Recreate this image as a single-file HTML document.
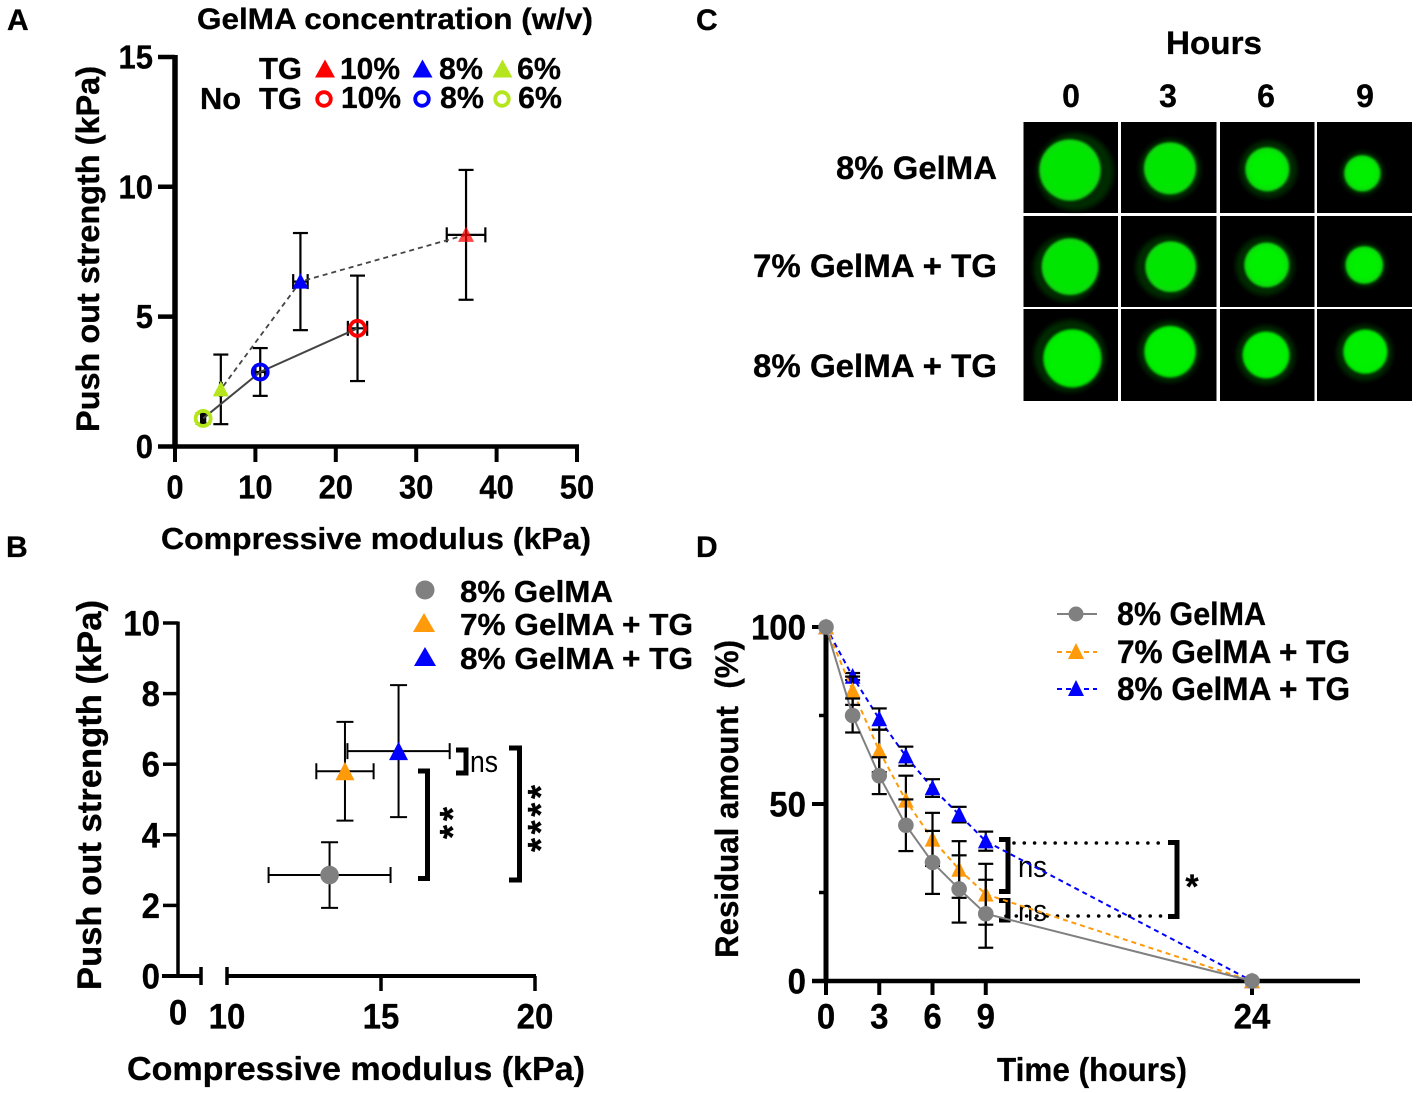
<!DOCTYPE html>
<html lang="en">
<head>
<meta charset="utf-8">
<title>GelMA hydrogel mechanical and degradation figure</title>
<style>
html,body{margin:0;padding:0;background:#fff;}
svg{display:block;}
text{font-family:"Liberation Sans",Arial,sans-serif;font-weight:bold;fill:#000;stroke:#000;stroke-width:0.3px;}
text.reg{font-weight:normal;stroke:none;}
</style>
</head>
<body>
<svg id="fig" xmlns="http://www.w3.org/2000/svg" width="1417" height="1093" viewBox="0 0 1417 1093">
  <defs>
    <filter id="blurHalo" x="-30%" y="-30%" width="160%" height="160%"><feGaussianBlur stdDeviation="2.5"/></filter>
    <filter id="blurCore" x="-30%" y="-30%" width="160%" height="160%"><feGaussianBlur stdDeviation="1.4"/></filter>
  </defs>
  <rect width="1417" height="1093" fill="#fff"/>

  <text x="7" y="30" font-size="30">A</text>
  <text x="6" y="557" font-size="30">B</text>
  <text x="696" y="30" font-size="30">C</text>
  <text x="696" y="557" font-size="30">D</text>

  <text x="197" y="29" font-size="30" textLength="396" lengthAdjust="spacingAndGlyphs">GelMA concentration (w/v)</text>
  <text x="161" y="549" font-size="31" textLength="430" lengthAdjust="spacingAndGlyphs">Compressive modulus (kPa)</text>
  <text transform="translate(99,432) rotate(-90)" font-size="32" textLength="366" lengthAdjust="spacingAndGlyphs">Push out strength (kPa)</text>

  <text x="259" y="79" font-size="31" textLength="43" lengthAdjust="spacingAndGlyphs">TG</text>
  <text x="200" y="109" font-size="31" textLength="41" lengthAdjust="spacingAndGlyphs">No</text>
  <text x="259" y="109" font-size="31" textLength="43" lengthAdjust="spacingAndGlyphs">TG</text>
  <text x="340" y="79" font-size="31" textLength="60" lengthAdjust="spacingAndGlyphs">10%</text>
  <text x="439" y="79" font-size="31" textLength="44" lengthAdjust="spacingAndGlyphs">8%</text>
  <text x="517" y="79" font-size="31" textLength="44" lengthAdjust="spacingAndGlyphs">6%</text>
  <text x="341" y="108" font-size="31" textLength="60" lengthAdjust="spacingAndGlyphs">10%</text>
  <text x="440" y="108" font-size="31" textLength="44" lengthAdjust="spacingAndGlyphs">8%</text>
  <text x="518" y="108" font-size="31" textLength="44" lengthAdjust="spacingAndGlyphs">6%</text>

  <text x="127" y="1080" font-size="33" textLength="458" lengthAdjust="spacingAndGlyphs">Compressive modulus (kPa)</text>
  <text transform="translate(101,990) rotate(-90)" font-size="34" textLength="390" lengthAdjust="spacingAndGlyphs">Push out strength (kPa)</text>
  <text x="460" y="602" font-size="31" textLength="153" lengthAdjust="spacingAndGlyphs">8% GelMA</text>
  <text x="460" y="635" font-size="31" textLength="233" lengthAdjust="spacingAndGlyphs">7% GelMA + TG</text>
  <text x="460" y="669" font-size="31" textLength="233" lengthAdjust="spacingAndGlyphs">8% GelMA + TG</text>
  <text class="reg" x="470" y="772" font-size="31" textLength="28" lengthAdjust="spacingAndGlyphs">ns</text>
  <text transform="translate(465,839) rotate(-90)" font-size="36" textLength="32" lengthAdjust="spacing">**</text>
  <text transform="translate(553,852) rotate(-90)" font-size="36" textLength="67" lengthAdjust="spacing">****</text>

  <text x="1166" y="54" font-size="32" textLength="96" lengthAdjust="spacingAndGlyphs">Hours</text>
  <text x="1071" y="107" font-size="32" text-anchor="middle">0</text>
  <text x="1168" y="107" font-size="32" text-anchor="middle">3</text>
  <text x="1266" y="107" font-size="32" text-anchor="middle">6</text>
  <text x="1365" y="107" font-size="32" text-anchor="middle">9</text>
  <text x="836" y="179" font-size="32" textLength="161" lengthAdjust="spacingAndGlyphs">8% GelMA</text>
  <text x="753" y="277" font-size="32" textLength="244" lengthAdjust="spacingAndGlyphs">7% GelMA + TG</text>
  <text x="753" y="377" font-size="32" textLength="244" lengthAdjust="spacingAndGlyphs">8% GelMA + TG</text>

  <text x="997" y="1081" font-size="33" textLength="190" lengthAdjust="spacingAndGlyphs">Time (hours)</text>
  <text transform="translate(738,958) rotate(-90)" font-size="32" textLength="318" lengthAdjust="spacingAndGlyphs" xml:space="preserve">Residual amount  (%)</text>
  <text x="1117" y="625" font-size="32" textLength="149" lengthAdjust="spacingAndGlyphs">8% GelMA</text>
  <text x="1117" y="663" font-size="32" textLength="233" lengthAdjust="spacingAndGlyphs">7% GelMA + TG</text>
  <text x="1117" y="700" font-size="32" textLength="233" lengthAdjust="spacingAndGlyphs">8% GelMA + TG</text>
  <text class="reg" x="1018" y="877" font-size="31" textLength="29" lengthAdjust="spacingAndGlyphs">ns</text>
  <text class="reg" x="1018" y="921" font-size="31" textLength="29" lengthAdjust="spacingAndGlyphs">ns</text>
  <text x="1192" y="898" font-size="34" text-anchor="middle">*</text>

  <path d="M456 750H466V773H456" fill="none" stroke="#000" stroke-width="5"/>
  <path d="M418 771H427.5V878.5H418" fill="none" stroke="#000" stroke-width="5"/>
  <path d="M509 748H519.5V880H509" fill="none" stroke="#000" stroke-width="5"/>
  <path d="M999 839.5H1008V891.5H999" fill="none" stroke="#000" stroke-width="5"/>
  <path d="M999 900.5H1008V920H999" fill="none" stroke="#000" stroke-width="5"/>
  <path d="M1168 842.5H1177V916.5H1168" fill="none" stroke="#000" stroke-width="5"/>
  <line x1="1014" y1="843" x2="1166" y2="843" stroke="#000" stroke-width="3.6" stroke-linecap="round" stroke-dasharray="0 10.3"/>
  <line x1="1006" y1="916" x2="1166" y2="916" stroke="#000" stroke-width="3.6" stroke-linecap="round" stroke-dasharray="0 10.3"/>
</svg>
<script>
// Panel A data
const aSeriesNames = ['tg-10', 'tg-8', 'tg-6', 'no-tg-10', 'no-tg-8', 'no-tg-6'];
const aColors = ['#ff0000', '#0000ff', '#b5e61d', '#ff0000', '#0000ff', '#b5e61d'];
const aModulus = [36.2, 15.6, 5.7, 22.7, 10.6, 3.5];
const aModulusErr = [2.4, 0.9, 0.1, 1.2, 0.6, 0.25];
const aStrength = [8.15, 6.35, 2.2, 4.55, 2.87, 1.08];
const aStrengthErr = [2.5, 1.87, 1.34, 2.03, 0.92, 0.2];
const aXTicks = [0, 10, 20, 30, 40, 50];
const aYTicks = [0, 5, 10, 15];

// Panel B data
const bSeriesNames = ['8-gelma', '7-gelma-tg', '8-gelma-tg'];
const bColors = ['#808080', '#ff9a0a', '#0000ff'];
const bModulus = [13.33, 13.83, 15.57];
const bModulusErr = [1.98, 0.93, 1.66];
const bStrength = [2.86, 5.8, 6.37];
const bStrengthErr = [0.93, 1.4, 1.87];
const bXTicks = [10, 15, 20];
const bYTicks = [0, 2, 4, 6, 8, 10];

// Panel D data
const dHours = [0, 1.5, 3, 4.5, 6, 7.5, 9, 24];
const dGelma = [100, 75, 58, 44, 33.5, 26, 19, 0];
const dGelmaErr = [0, 4.8, 5.2, 7.3, 8.9, 9.5, 9.6, 0];
const d7Tg = [100, 82, 65, 51, 40, 31.5, 24.5, 0];
const d7TgErr = [0, 4, 6, 7, 7.5, 8, 8.6, 0];
const d8Tg = [100, 86, 74, 63.5, 54.5, 47, 39.5, 0];
const d8TgErr = [0, 1, 3, 2.7, 2.5, 2.2, 2.7, 0];
const dXTicks = [0, 3, 6, 9, 24];
const dYTicks = [0, 50, 100];
const dYMinorTicks = [25, 75];

// Panel C micrograph appearance, in a 3x crop space of the image block
const cRows = ['8-gelma', '7-gelma-tg', '8-gelma-tg'];
const cHours = [0, 3, 6, 9];
const cBlobs = [
  [[180,180,92,195,185,116],[480,175,78,480,178,92],[772,178,66,775,178,86],[1057,190,54,1057,190,65]],
  [[180,470,85,170,475,100],[482,470,76,472,472,95],[770,465,67,765,468,88],[1063,465,56,1063,465,66]],
  [[187,745,87,180,738,108],[480,725,77,478,725,92],[768,735,70,768,735,88],[1066,725,66,1064,728,84]]
];
const cCellX = [[1023.5, 1118], [1121, 1216.5], [1220, 1314.5], [1317, 1412]];
const cCellY = [[122, 213], [216, 307], [309, 401]];

const NS = 'http://www.w3.org/2000/svg';
const fig = document.getElementById('fig');

function make(tag, name, attrs, parent) {
  const el = document.createElementNS(NS, tag);
  
  
  for (const k in attrs) el.setAttribute(k, attrs[k]);
  (parent || fig).appendChild(el);
  return el;
}
function line(name, x1, y1, x2, y2, w, color, parent, dash) {
  const a = {x1: x1, y1: y1, x2: x2, y2: y2, stroke: color || '#000', 'stroke-width': w};
  if (dash) a['stroke-dasharray'] = dash;
  return make('line', name, a, parent);
}
function label(name, str, x, y, size, anchor, parent) {
  const t = make('text', name, {
    x: x, y: y + 0.5, 'font-size': size * 1.07, 'text-anchor': anchor,
    textLength: str.length * 0.556 * size, lengthAdjust: 'spacingAndGlyphs'
  }, parent);
  t.textContent = str;
  return t;
}
function triangle(name, x, y, hw, up, down, color, opacity, parent) {
  return make('polygon', name, {
    points: (x - hw) + ',' + (y + down) + ' ' + (x + hw) + ',' + (y + down) + ' ' + x + ',' + (y - up),
    fill: color, 'fill-opacity': opacity
  }, parent);
}
function errorBar(name, x, yLow, yHigh, cap, w, parent) {
  const g = make('g', name, {}, parent);
  line('error-stem', x, yLow, x, yHigh, w, '#000', g);
  line('error-cap', x - cap, yLow, x + cap, yLow, w, '#000', g);
  line('error-cap', x - cap, yHigh, x + cap, yHigh, w, '#000', g);
  return g;
}
function errorBarX(name, y, xLow, xHigh, cap, w, parent) {
  const g = make('g', name, {}, parent);
  line('error-stem', xLow, y, xHigh, y, w, '#000', g);
  line('error-cap', xLow, y - cap, xLow, y + cap, w, '#000', g);
  line('error-cap', xHigh, y - cap, xHigh, y + cap, w, '#000', g);
  return g;
}

// ---------- Panel A ----------
const ax = v => 175 + v * 8.04;
const ay = v => 446.5 - v * 25.97;
const panelA = make('g', 'panel-a-scatter', {});
aXTicks.forEach(t => {
  line('panel-a-x-tick', ax(t), 446, ax(t), 462, 4, '#000', panelA);
  label('panel-a-x-tick-label', String(t), ax(t), 498, 31, 'middle', panelA);
});
aYTicks.forEach(t => {
  line('panel-a-y-tick', 158, ay(t), 175, ay(t), 4.5, '#000', panelA);
  label('panel-a-y-tick-label', String(t), 153, ay(t) + 11, 31, 'end', panelA);
});
line('panel-a-y-axis', 175, ay(15) - 2, 175, 448, 5.5, '#000', panelA);
line('panel-a-x-axis', 173, 446.5, 579, 446.5, 4.5, '#000', panelA);
aModulus.forEach((m, i) => {
  errorBar('panel-a-y-error', ax(m), ay(aStrength[i] - aStrengthErr[i]), ay(aStrength[i] + aStrengthErr[i]), 7.5, 2.2, panelA);
  errorBarX('panel-a-x-error', ay(aStrength[i]), ax(m - aModulusErr[i]), ax(m + aModulusErr[i]), i === 5 ? 5 : 7.5, 2.2, panelA);
});
const tgPts = [0, 1, 2].map(i => ax(aModulus[i]) + ',' + ay(aStrength[i])).join(' ');
make('polyline', 'panel-a-line-tg', {points: tgPts, fill: 'none', stroke: '#444', 'stroke-width': 1.8, 'stroke-dasharray': '5 4'}, panelA);
const noTgPts = [3, 4, 5].map(i => ax(aModulus[i]) + ',' + ay(aStrength[i])).join(' ');
make('polyline', 'panel-a-line-no-tg', {points: noTgPts, fill: 'none', stroke: '#444', 'stroke-width': 2}, panelA);
aSeriesNames.forEach((n, i) => {
  if (i < 3) {
    triangle('panel-a-point-' + n, ax(aModulus[i]), ay(aStrength[i]), 8, 8.5, 7, aColors[i], i === 0 ? 0.72 : 1, panelA);
  } else {
    make('circle', 'panel-a-point-' + n, {cx: ax(aModulus[i]), cy: ay(aStrength[i]), r: 7.5, fill: 'none', stroke: aColors[i], 'stroke-width': 3.8}, panelA);
  }
});
[325, 422.5, 502.5].forEach((x, i) => {
  triangle('panel-a-legend-marker-' + aSeriesNames[i], x, 68, 10, 8.5, 9.5, aColors[i], 1);
});
[324, 422, 502].forEach((x, i) => {
  make('circle', 'panel-a-legend-marker-' + aSeriesNames[i + 3], {cx: x, cy: 99, r: 6.8, fill: 'none', stroke: aColors[i + 3], 'stroke-width': 3.8});
});

// ---------- Panel B ----------
const bx = v => 227 + (v - 10) * 30.8;
const by = v => 976 - v * 35.3;
const panelB = make('g', 'panel-b-scatter', {});
line('panel-b-y-axis', 178, by(10) - 1.5, 178, 977, 3.5, '#000', panelB);
line('panel-b-x-axis-low', 162, 976, 201, 976, 4, '#000', panelB);
line('panel-b-axis-break-left', 201, 967, 201, 985, 3.5, '#000', panelB);
line('panel-b-x-axis-high', 227, 976, 536, 976, 4, '#000', panelB);
bXTicks.forEach(t => {
  line('panel-b-x-tick', bx(t), t === 10 ? 967 : 976, bx(t), t === 10 ? 985 : 991, 3.5, '#000', panelB);
  label('panel-b-x-tick-label', String(t), bx(t), 1028, 33, 'middle', panelB);
});
label('panel-b-x-tick-label', '0', 178, 1024, 33, 'middle', panelB);
bYTicks.forEach(t => {
  line('panel-b-y-tick', 163, by(t), 178, by(t), 3.5, '#000', panelB);
  label('panel-b-y-tick-label', String(t), 160, by(t) + 12, 33, 'end', panelB);
});
bSeriesNames.forEach((n, i) => {
  errorBar('panel-b-y-error-' + n, bx(bModulus[i]), by(bStrength[i] - bStrengthErr[i]), by(bStrength[i] + bStrengthErr[i]), 8.5, 2, panelB);
  errorBarX('panel-b-x-error-' + n, by(bStrength[i]), bx(bModulus[i] - bModulusErr[i]), bx(bModulus[i] + bModulusErr[i]), 8, 2, panelB);
});
make('circle', 'panel-b-point-8-gelma', {cx: bx(bModulus[0]), cy: by(bStrength[0]), r: 9.3, fill: bColors[0]}, panelB);
triangle('panel-b-point-7-gelma-tg', bx(bModulus[1]), by(bStrength[1]), 9.5, 9.5, 9, bColors[1], 1, panelB);
triangle('panel-b-point-8-gelma-tg', bx(bModulus[2]), by(bStrength[2]), 9.5, 9.5, 9, bColors[2], 1, panelB);
make('circle', 'panel-b-legend-marker-8-gelma', {cx: 425, cy: 590, r: 9.5, fill: bColors[0]});
triangle('panel-b-legend-marker-7-tg', 424, 624, 11, 11, 8, bColors[1], 1);
triangle('panel-b-legend-marker-8-tg', 425, 657, 11, 10, 9, bColors[2], 1);

// ---------- Panel C ----------
const panelC = make('g', 'panel-c-micrographs', {});
const toX = v => 1010 + v / 3;
const toY = v => 110 + v / 3;
cRows.forEach((rowName, r) => {
  cHours.forEach((h, c) => {
    const cell = make('g', 'micrograph-' + rowName + '-' + h + 'h', {}, panelC);
    const b = cBlobs[r][c];
    make('rect', 'micrograph-background', {x: cCellX[c][0], y: cCellY[r][0], width: cCellX[c][1] - cCellX[c][0], height: cCellY[r][1] - cCellY[r][0], fill: '#000'}, cell);
    make('circle', 'micrograph-halo', {cx: toX(b[3]), cy: toY(b[4]), r: b[5] / 3, fill: '#032c03', filter: 'url(#blurHalo)'}, cell);
    make('circle', 'micrograph-gel', {cx: toX(b[0]), cy: toY(b[1]), r: b[2] / 3, fill: r === 2 ? '#02ea02' : '#0adc0a', filter: 'url(#blurCore)'}, cell);
    make('circle', 'micrograph-gel-core', {cx: toX(b[0]), cy: toY(b[1]), r: b[2] / 3 * 0.85, fill: r === 2 || c > 1 ? '#00f000' : '#06e606', filter: 'url(#blurHalo)'}, cell);
  });
});

// ---------- Panel D ----------
const dx = v => 826 + v * 17.75;
const dy = v => 981 - v * 3.54;
const panelD = make('g', 'panel-d-degradation', {});
line('panel-d-y-axis', 826, dy(100), 826, 983, 5, '#000', panelD);
line('panel-d-x-axis', 812, 981, 1360, 981, 4.5, '#000', panelD);
dYTicks.forEach(t => {
  line('panel-d-y-tick', 812, dy(t), 826, dy(t), 4, '#000', panelD);
  label('panel-d-y-tick-label', String(t), 806, dy(t) + 12, 33, 'end', panelD);
});
dYMinorTicks.forEach(t => {
  line('panel-d-y-minor-tick', 819, dy(t), 826, dy(t), 3.5, '#000', panelD);
});
dXTicks.forEach(t => {
  line('panel-d-x-tick', dx(t), 981, dx(t), 995, 4, '#000', panelD);
  label('panel-d-x-tick-label', String(t), dx(t), 1028, 33, 'middle', panelD);
});
function drawSeries(name, values, errs, color, isCircle, dash) {
  const g = make('g', 'panel-d-series-' + name, {}, panelD);
  const pts = dHours.map((h, i) => dx(h) + ',' + dy(values[i])).join(' ');
  const a = {points: pts, fill: 'none', stroke: color, 'stroke-width': 2};
  if (dash) a['stroke-dasharray'] = dash;
  make('polyline', 'panel-d-line-' + name, a, g);
  dHours.forEach((h, i) => {
    if (errs[i] > 0) {
      errorBar('panel-d-error-' + name, dx(h), dy(values[i] - errs[i]), dy(values[i] + errs[i]), 7.5, 2.2, g);
    }
  });
  dHours.forEach((h, i) => {
    if (isCircle) {
      make('circle', 'panel-d-point-' + name, {cx: dx(h), cy: dy(values[i]), r: 7.8, fill: color}, g);
    } else {
      triangle('panel-d-point-' + name, dx(h), dy(values[i]), 7.8, 8.5, 7.2, color, 1, g);
    }
  });
}
drawSeries('8-gelma-tg', d8Tg, d8TgErr, '#0000ff', false, '5 4');
drawSeries('7-gelma-tg', d7Tg, d7TgErr, '#ff9a0a', false, '5 4');
drawSeries('8-gelma', dGelma, dGelmaErr, '#808080', true, null);
line('panel-d-legend-line-gelma', 1057, 614, 1097, 614, 2, '#808080');
make('circle', 'panel-d-legend-marker-gelma', {cx: 1076, cy: 614, r: 7.5, fill: '#808080'});
line('panel-d-legend-line-7-tg', 1057, 652, 1097, 652, 2, '#ff9a0a', null, '5 4');
triangle('panel-d-legend-marker-7-tg', 1076, 652, 8, 9, 7, '#ff9a0a', 1);
line('panel-d-legend-line-8-tg', 1057, 689, 1097, 689, 2, '#0000ff', null, '5 4');
triangle('panel-d-legend-marker-8-tg', 1076, 689, 8, 9, 7, '#0000ff', 1);
</script>
</body>
</html>
